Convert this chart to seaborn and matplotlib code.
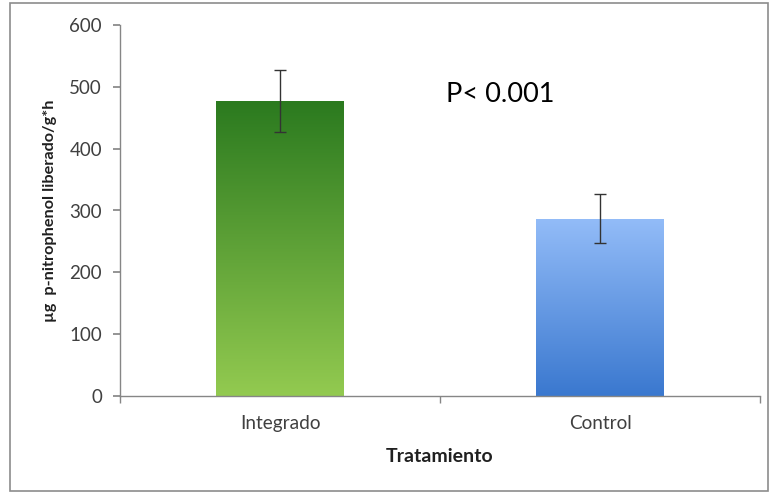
import numpy as np
import pandas as pd
import matplotlib
matplotlib.use("Agg")
import matplotlib.pyplot as plt
from matplotlib.colors import LinearSegmentedColormap
from matplotlib.patches import Rectangle
import seaborn as sns

# data
tratamientos = ["Integrado", "Control"]
medias = [477, 287]
errores = [50, 39]
p_texto = "P< 0.001"

# gradient colours (top, bottom) per bar
gradientes = [("#2b7a1f", "#93ca50"), ("#93bcf8", "#3a78cf")]

sns.set_theme(style="white")
plt.rcParams["font.family"] = ["Lato", "DejaVu Sans"]

df = pd.DataFrame({"Tratamiento": tratamientos, "valor": medias})

fig = plt.figure(figsize=(7.72, 4.94), dpi=100)
ax = fig.add_axes([120 / 772, 1 - 396 / 494, 640 / 772, 371 / 494])

sns.barplot(data=df, x="Tratamiento", y="valor", width=0.4,
            color="white", edgecolor="none", ax=ax)

# fill each bar with a vertical gradient clipped to the bar
for patch, (top, bottom) in zip(ax.patches, gradientes):
    x0, y0 = patch.get_x(), patch.get_y()
    w, h = patch.get_width(), patch.get_height()
    cmap = LinearSegmentedColormap.from_list("g", [bottom, top])
    grad = np.linspace(0, 1, 256).reshape(-1, 1)
    im = ax.imshow(grad, cmap=cmap, aspect="auto", origin="lower",
                   extent=[x0, x0 + w, y0, y0 + h], zorder=2)
    im.set_clip_path(patch)

ax.errorbar(tratamientos, medias, yerr=errores, fmt="none",
            ecolor="#333333", elinewidth=1.0, capsize=4, capthick=1.0, zorder=3)

ax.set_xlim(-0.5, 1.5)
ax.set_ylim(0, 600)
ax.set_yticks(range(0, 601, 100))
ax.set_xticks([-0.5, 0.5, 1.5], minor=True)
ax.tick_params(axis="x", which="major", length=0, pad=14, labelsize=13.7, labelcolor="#404040")
ax.tick_params(axis="x", which="minor", length=5, direction="out", color="#868686", bottom=True)
ax.tick_params(axis="y", length=5, direction="out", color="#868686", left=True,
               labelsize=13.5, labelcolor="#404040", pad=8)

for s in ["top", "right"]:
    ax.spines[s].set_visible(False)
for s in ["left", "bottom"]:
    ax.spines[s].set_color("#868686")
    ax.spines[s].set_linewidth(1.0)

ax.set_xlabel("Tratamiento", fontsize=14, fontweight="bold", color="#202020", labelpad=11)
ax.set_ylabel("µg  p-nitrophenol liberado/g*h", fontsize=11.7, fontweight="bold",
              color="#202020", labelpad=9)

ax.text(0.52, 488, p_texto, fontsize=19.5, color="black", va="center", ha="left")

# outer chart border
fig.patches.append(Rectangle((10 / 772, 3 / 494), 758 / 772, 488 / 494,
                             transform=fig.transFigure, fill=False,
                             edgecolor="#8c8c8c", linewidth=1.2))

fig.savefig("out.png", dpi=100)
